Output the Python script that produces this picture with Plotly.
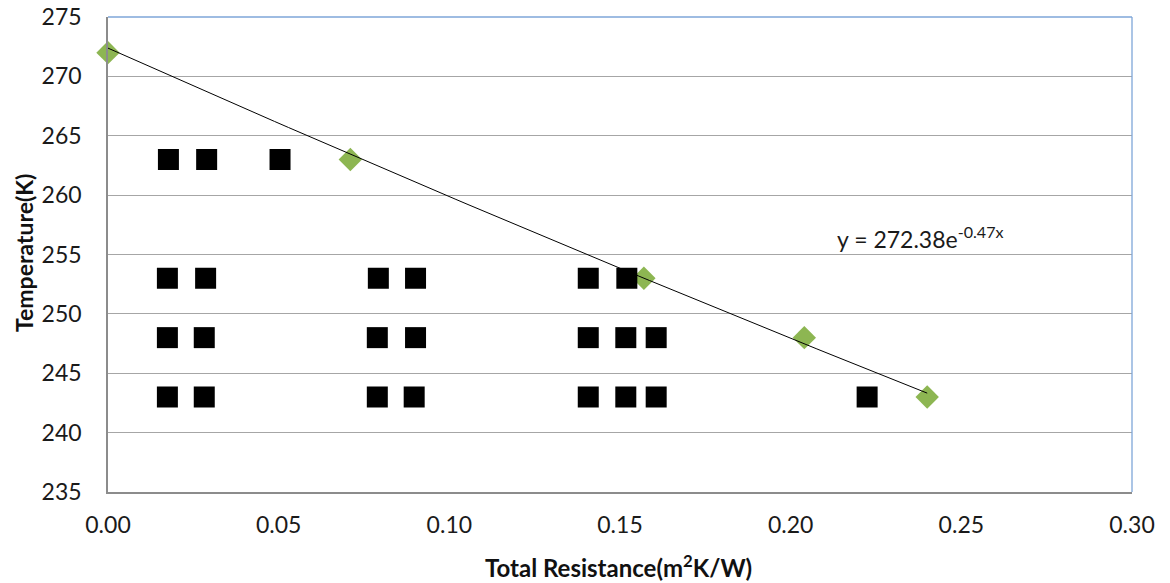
import numpy as np
import plotly.graph_objects as go

# Green diamond series (fitted data)
fit_x = [0.0, 0.071, 0.157, 0.204, 0.240]
fit_y = [272, 263, 253, 248, 243]

# Black square series
sq_x = [0.0177, 0.0289, 0.0504,
        0.0174, 0.0286, 0.0792, 0.0901, 0.1407, 0.1520,
        0.0174, 0.0282, 0.0789, 0.0901, 0.1407, 0.1517, 0.1606,
        0.0174, 0.0282, 0.0789, 0.0897, 0.1407, 0.1517, 0.1606, 0.2224]
sq_y = [263, 263, 263,
        253, 253, 253, 253, 253, 253,
        248, 248, 248, 248, 248, 248, 248,
        243, 243, 243, 243, 243, 243, 243, 243]

# Exponential trendline coefficients (as displayed)
trend_a = 272.38
trend_b = -0.47

x_ticks = [0.00, 0.05, 0.10, 0.15, 0.20, 0.25, 0.30]
y_ticks = [235, 240, 245, 250, 255, 260, 265, 270, 275]

tx = np.linspace(min(fit_x), max(fit_x), 60)
ty = trend_a * np.exp(trend_b * tx)

FONT = "Lato"

fig = go.Figure()
fig.add_trace(go.Scatter(x=fit_x, y=fit_y, mode="markers",
                         marker=dict(symbol="diamond", size=18, color="#8DB652",
                                     line=dict(width=0)),
                         showlegend=False, cliponaxis=False))
fig.add_trace(go.Scatter(x=sq_x, y=sq_y, mode="markers",
                         marker=dict(symbol="square", size=21, color="#000000",
                                     line=dict(width=0)),
                         showlegend=False))
fig.add_trace(go.Scatter(x=tx, y=ty, mode="lines",
                         line=dict(color="#000000", width=1),
                         showlegend=False))

fig.update_layout(
    width=1170, height=583,
    margin=dict(l=108, r=38, t=17, b=91, autoexpand=False),
    paper_bgcolor="white", plot_bgcolor="white",
    font=dict(family=FONT, size=23, color="#1a1a1a"),
    xaxis=dict(range=[0, 0.30], tickvals=x_ticks,
               ticktext=[f"{v:.2f}" for v in x_ticks],
               showgrid=False, zeroline=False, automargin=False,
               showline=True, linecolor="#8C8C8C", linewidth=1.5,
               ticks="outside", ticklen=12, tickcolor="rgba(0,0,0,0)"),
    yaxis=dict(range=[235, 275], tickvals=y_ticks,
               showgrid=True, gridcolor="#A6A6A6", gridwidth=1.3,
               zeroline=False, automargin=False,
               showline=True, linecolor="#8C8C8C", linewidth=1.5,
               ticks="outside", ticklen=20, tickcolor="rgba(0,0,0,0)"),
    shapes=[
        dict(type="line", xref="paper", yref="paper", x0=0, x1=1, y0=1, y1=1,
             line=dict(color="#7EA6D8", width=1.3), layer="above"),
        dict(type="line", xref="paper", yref="paper", x0=1, x1=1, y0=0, y1=1,
             line=dict(color="#7EA6D8", width=1.3), layer="above"),
    ],
    annotations=[
        dict(text="<b>Total Resistance(m<sup>2</sup>K/W)</b>", xref="paper", yref="paper",
             x=(618 - 108) / 1024, y=-(566 - 492) / 475, xanchor="center", yanchor="middle",
             showarrow=False, font=dict(family=FONT, size=24, color="#111111")),
        dict(text="<b>Temperature(K)</b>", xref="paper", yref="paper",
             x=-(108 - 24) / 1024, y=(492 - 253) / 475, xanchor="center", yanchor="middle",
             textangle=-90, showarrow=False, font=dict(family=FONT, size=23, color="#111111")),
        dict(text="y = 272.38e<sup>-0.47x</sup>", xref="x", yref="y",
             x=(835 - 108) / 1024 * 0.3, y=275 - (237 - 17) / 475 * 40,
             xanchor="left", yanchor="middle", showarrow=False,
             font=dict(family=FONT, size=23, color="#1a1a1a")),
    ],
)

fig.write_html("out.html")
